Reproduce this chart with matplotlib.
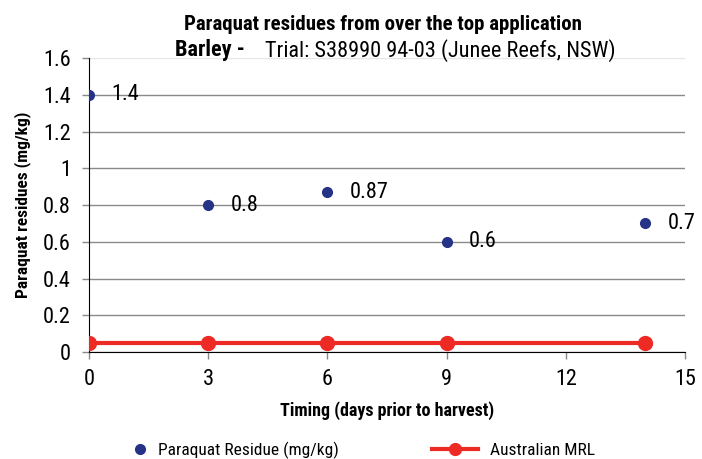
import matplotlib
matplotlib.use("Agg")
import matplotlib.pyplot as plt

days = [0, 3, 6, 9, 14]
residue = [1.4, 0.8, 0.87, 0.6, 0.7]
mrl = [0.05, 0.05, 0.05, 0.05, 0.05]
residue_labels = ["1.4", "0.8", "0.87", "0.6", "0.7"]
xticks = [0, 3, 6, 9, 12, 15]
yticks = [0, 0.2, 0.4, 0.6, 0.8, 1.0, 1.2, 1.4, 1.6]
ytick_labels = ["0", "0.2", "0.4", "0.6", "0.8", "1", "1.2", "1.4", "1.6"]

plt.rcParams["font.family"] = ["Roboto Condensed", "Liberation Sans", "DejaVu Sans"]

fig = plt.figure(figsize=(7.02, 4.59), dpi=100)
ax = fig.add_axes([0.1268, 0.2331, 0.849, 0.6405])

mrl_line, = ax.plot(days, mrl, color="#EE2A24", lw=3, marker="o", ms=10, zorder=3,
                    label="Australian MRL")
res_pts, = ax.plot(days, residue, ls="none", marker="o", ms=7, color="#253286",
                   zorder=4, label="Paraquat Residue (mg/kg)")
for x, y, t in zip(days, residue, residue_labels):
    ax.annotate(t, (x, y), xytext=(16, 0), textcoords="offset points",
                va="center", ha="left", fontsize=16)

ax.set_xlim(0, 15)
ax.set_ylim(0, 1.6)
ax.set_xticks(xticks)
ax.set_yticks(yticks)
ax.set_yticklabels(ytick_labels)
ax.tick_params(labelsize=16, length=5, color="#888888", width=1)
ax.tick_params(axis="y", pad=8)
ax.tick_params(axis="x", pad=7)
ax.grid(axis="y", color="#8a8a8a", lw=1)
ax.get_ygridlines()[-1].set_color("#e6e6e6")
ax.set_axisbelow(True)
for s in ["top", "right"]:
    ax.spines[s].set_visible(False)
for s in ["left", "bottom"]:
    ax.spines[s].set_color("black")

ax.set_xlabel("Timing (days prior to harvest)", fontsize=13, fontweight="bold", labelpad=8)
ax.set_ylabel("Paraquat residues (mg/kg)", fontsize=12.5, fontweight="bold", labelpad=9)

fig.text(0.545, 0.947, "Paraquat residues from over the top application",
         ha="center", va="center", fontsize=15, fontweight="bold")
fig.text(0.349, 0.89, "Barley -", ha="right", va="center", fontsize=16, fontweight="bold")
fig.text(0.377, 0.89, "Trial: S38990 94-03 (Junee Reefs, NSW)", ha="left",
         va="center", fontsize=16)

leg_kw = dict(loc="center left", frameon=False, fontsize=12.5, borderpad=0,
              borderaxespad=0)
fig.legend([res_pts], [res_pts.get_label()], bbox_to_anchor=(131 / 702, 0.0196),
           handlelength=1.0, handletextpad=0.55, **leg_kw)
fig.legend([mrl_line], [mrl_line.get_label()], bbox_to_anchor=(432 / 702, 0.0196),
           handlelength=2.64, handletextpad=0.69, markerscale=0.85, **leg_kw)

fig.savefig("out.png", dpi=100)
